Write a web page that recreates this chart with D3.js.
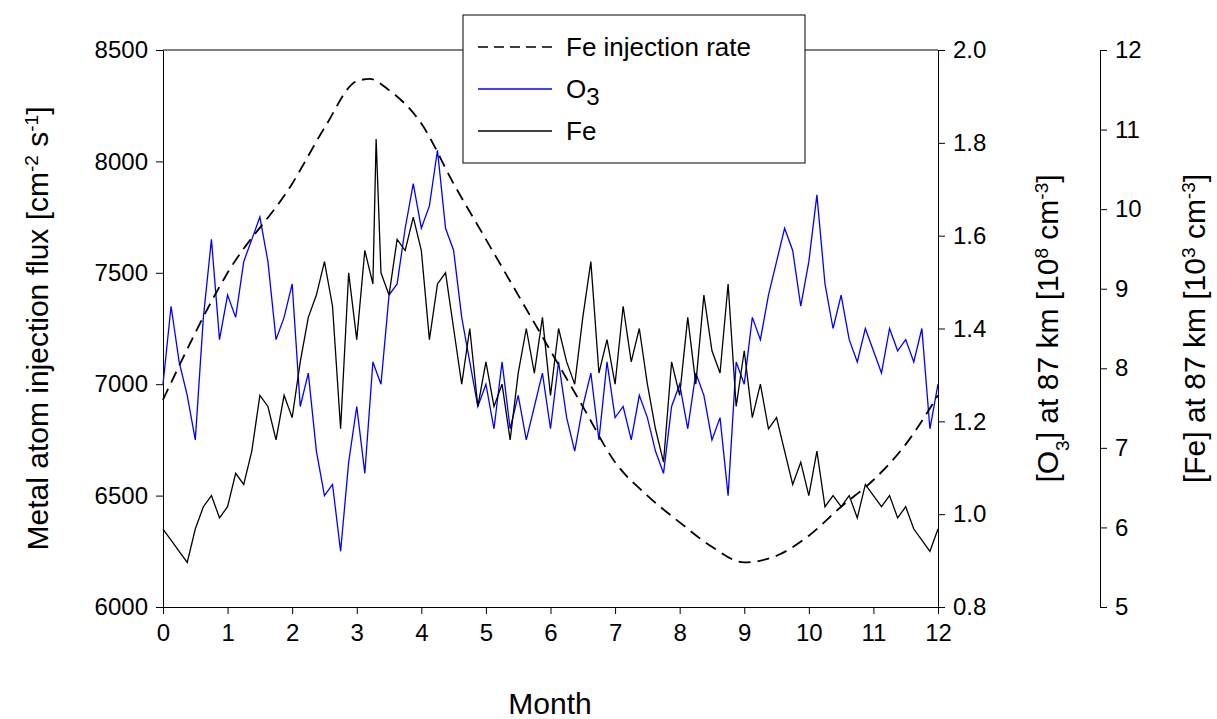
<!DOCTYPE html>
<html><head><meta charset="utf-8">
<script src="https://cdn.jsdelivr.net/npm/d3@7.9.0/dist/d3.min.js"></script>
<style>body{margin:0;background:#fff}text{font-family:"Liberation Sans",Arial,sans-serif}</style>
</head><body><svg id="chart" width="1217" height="719"></svg>
<script>
const steps = d3.range(0, 12.0001, 0.125);
const o3Values = [1.28,1.448,1.328,1.256,1.16,1.424,1.592,1.376,1.472,1.424,1.544,1.592,1.64,1.544,1.376,1.424,
 1.496,1.232,1.304,1.136,1.04,1.064,0.92,1.112,1.232,1.088,1.328,1.28,1.472,1.496,1.616,1.712,
 1.616,1.664,1.784,1.616,1.568,1.424,1.328,1.232,1.28,1.184,1.328,1.184,1.256,1.16,1.232,1.304,
 1.184,1.328,1.208,1.136,1.232,1.304,1.16,1.328,1.208,1.232,1.16,1.256,1.208,1.136,1.088,1.232,
 1.28,1.184,1.304,1.256,1.16,1.208,1.04,1.328,1.28,1.424,1.376,1.472,1.544,1.616,1.568,1.448,
 1.544,1.688,1.496,1.4,1.472,1.376,1.328,1.4,1.352,1.304,1.4,1.352,1.376,1.328,1.4,1.184,1.28];
const feMonths = [0,0.125,0.25,0.375,0.5,0.625,0.75,0.875,1,1.125,1.25,1.375,1.5,1.625,1.75,1.875,2,2.125,2.25,2.375,2.5,2.625,2.75,2.875,3,3.125,3.25,3.3,3.375,3.5,3.625,3.75,3.875,4,4.125,4.25,4.375,4.5,4.625,4.75,4.875,5,5.125,5.25,5.375,5.5,5.625,5.75,5.875,6,6.125,6.25,6.375,6.5,6.625,6.75,6.875,7,7.125,7.25,7.375,7.5,7.625,7.75,7.875,8,8.125,8.25,8.375,8.5,8.625,8.75,8.875,9,9.125,9.25,9.375,9.5,9.625,9.75,9.875,10,10.125,10.25,10.375,10.5,10.625,10.75,10.875,11,11.125,11.25,11.375,11.5,11.625,11.75,11.875,12];
const feValues = [5.98,5.84,5.7,5.56,5.98,6.26,6.4,6.12,6.26,6.68,6.54,6.96,7.66,7.52,7.1,7.66,7.38,8.08,8.64,8.92,9.34,8.78,7.24,9.2,8.36,9.48,9.06,10.88,9.2,8.92,9.62,9.48,9.9,9.48,8.36,9.06,9.2,8.5,7.8,8.5,7.52,8.08,7.52,7.8,7.1,7.94,8.5,7.94,8.64,7.66,8.5,8.08,7.8,8.64,9.34,7.94,8.36,7.8,8.78,8.08,8.5,7.8,7.24,6.82,8.08,7.66,8.64,7.8,8.92,8.22,7.94,9.06,7.52,8.22,7.38,7.8,7.24,7.38,6.96,6.54,6.82,6.4,6.96,6.26,6.4,6.26,6.4,6.12,6.54,6.4,6.26,6.4,6.12,6.26,5.98,5.84,5.7,5.98];
const injMonths = [0,1,2,2.5,3,3.2,3.5,4,4.5,5,5.5,6,6.5,7,7.5,8,8.5,9,9.5,10,10.5,11,11.5,12];
const injValues = [6930,7500,7900,8150,8360,8370,8320,8170,7900,7650,7400,7150,6900,6650,6500,6380,6270,6200,6230,6320,6450,6570,6730,6950];
const legendItems = [{label:"Fe injection rate",color:"#000",dash:"10,6"},{label:"O",sub:"3",color:"#0000ff",dash:null},{label:"Fe",color:"#000",dash:null}];

const L=163,R=938,T=50,B=607;
const svg=d3.select("#chart");
const x=d3.scaleLinear().domain([0,12]).range([L,R]);
const yL=d3.scaleLinear().domain([6000,8500]).range([B,T]);
const yO=d3.scaleLinear().domain([0.8,2.0]).range([B,T]);
const yF=d3.scaleLinear().domain([5,12]).range([B,T]);

function styleAxis(g){g.selectAll("text").style("font-size","24px").style("font-family","Liberation Sans, Arial");g.selectAll("line,path").attr("stroke","#000");}
svg.append("g").attr("transform",`translate(0,${B})`).call(d3.axisBottom(x).ticks(12).tickSize(7).tickPadding(10).tickSizeOuter(0)).call(styleAxis);
svg.append("g").attr("transform",`translate(${L},0)`).call(d3.axisLeft(yL).tickValues(d3.range(6000,8501,500)).tickFormat(d3.format("d")).tickSize(7).tickPadding(8).tickSizeOuter(0)).call(styleAxis);
svg.append("g").attr("transform",`translate(${R},0)`).call(d3.axisRight(yO).tickValues(d3.range(0.8,2.01,0.2)).tickFormat(d3.format(".1f")).tickSize(7).tickPadding(8).tickSizeOuter(0)).call(styleAxis);
svg.append("g").attr("transform",`translate(1100,0)`).call(d3.axisRight(yF).ticks(7).tickSize(7).tickPadding(8).tickSizeOuter(0)).call(styleAxis);
svg.append("line").attr("x1",L).attr("x2",R).attr("y1",T).attr("y2",T).attr("stroke","#000");

svg.append("path").datum(steps.map((m,i)=>[m,o3Values[i]])).attr("fill","none").attr("stroke","#0000ff").attr("stroke-width",1.3)
  .attr("d",d3.line().x(d=>x(d[0])).y(d=>yO(d[1])));
svg.append("path").datum(feMonths.map((m,i)=>[m,feValues[i]])).attr("fill","none").attr("stroke","#000").attr("stroke-width",1.3)
  .attr("d",d3.line().x(d=>x(d[0])).y(d=>yF(d[1])));
svg.append("path").datum(injMonths.map((m,i)=>[m,injValues[i]])).attr("fill","none").attr("stroke","#000").attr("stroke-width",1.8).attr("stroke-dasharray","12,7")
  .attr("d",d3.line().x(d=>x(d[0])).y(d=>yL(d[1])).curve(d3.curveMonotoneX));

const lg=svg.append("g");
lg.append("rect").attr("x",463).attr("y",15).attr("width",342).attr("height",148).attr("fill","#fff").attr("stroke","#000");
legendItems.forEach((it,i)=>{
  const yy=47+i*42;
  lg.append("line").attr("x1",478).attr("x2",552).attr("y1",yy).attr("y2",yy).attr("stroke",it.color).attr("stroke-width",1.6).attr("stroke-dasharray",it.dash);
  const t=lg.append("text").attr("x",566).attr("y",yy+9).style("font-size","26px").text(it.label);
  if(it.sub) t.append("tspan").attr("dy",7).style("font-size","24px").text(it.sub);
});

svg.append("text").attr("x",550).attr("y",714).attr("text-anchor","middle").style("font-size","30px").text("Month");
function vlabel(cx,parts){
  const t=svg.append("text").attr("transform",`translate(${cx},${(T+B)/2}) rotate(-90)`).attr("text-anchor","middle").style("font-size","30px");
  parts.forEach(p=>{const s=t.append("tspan").text(p[0]);if(p[1]){s.attr("baseline-shift","super").style("font-size","19px");}});
}
vlabel(48,[["Metal atom injection flux [cm"],["-2",1],[" s"],["-1",1],["]"]]);
const o=svg.append("text").attr("transform",`translate(1058,${(T+B)/2}) rotate(-90)`).attr("text-anchor","middle").style("font-size","30px");
o.append("tspan").text("[O");o.append("tspan").attr("baseline-shift","sub").style("font-size","19px").text("3");
o.append("tspan").text("] at 87 km [10");o.append("tspan").attr("baseline-shift","super").style("font-size","19px").text("8");
o.append("tspan").text(" cm");o.append("tspan").attr("baseline-shift","super").style("font-size","19px").text("-3");o.append("tspan").text("]");
vlabel(1205,[["[Fe] at 87 km [10"],["3",1],[" cm"],["-3",1],["]"]]);
</script></body></html>
